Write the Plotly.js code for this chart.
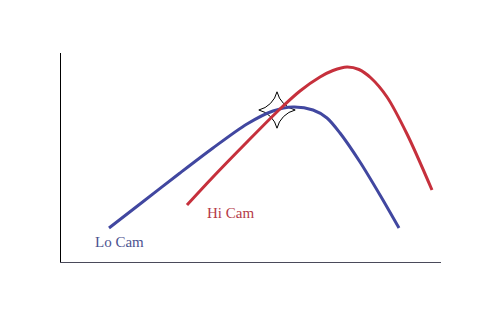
<!DOCTYPE html>
<html>
<head>
<meta charset="utf-8">
<script src="https://cdn.plot.ly/plotly-3.0.1.min.js"></script>
<style>html,body{margin:0;padding:0;background:#fff;}#chart{width:492px;height:327px;}</style>
</head>
<body>
<div id="chart"></div>
<script>
// Lo Cam curve (arbitrary units)
const loCamX = [48, 79, 119, 152, 186, 212, 232, 252, 266, 279, 299, 319, 338];
const loCamY = [34, 58, 89, 114, 138, 151, 155, 152, 144, 129, 100, 67, 34];
// Hi Cam curve
const hiCamX = [126, 152, 186, 219, 239, 259, 272, 286, 298, 310, 326, 346, 371];
const hiCamY = [57, 85, 120, 153, 171, 185, 191.5, 195, 192.5, 184, 165, 128, 72];
// Crossing point marker
const crossX = [216];
const crossY = [152];
// Labels
const labelText = ["Lo Cam", "Hi Cam"];
const labelX = [58, 169];
const labelY = [20, 49];
const labelColors = ["#4b5290", "#b53a48"];

const traces = [
  {x: crossX, y: crossY, mode: 'markers', marker: {symbol: 'star-diamond', size: 26, color: '#ffffff', line: {color: '#000000', width: 1}}, hoverinfo: 'skip'},
  {x: loCamX, y: loCamY, mode: 'lines', line: {color: '#4147a0', width: 3, shape: 'spline', smoothing: 0.8}, hoverinfo: 'skip'},
  {x: hiCamX, y: hiCamY, mode: 'lines', line: {color: '#c6303c', width: 3, shape: 'spline', smoothing: 0.9}, hoverinfo: 'skip'}
];

const annotations = labelText.map((t, i) => ({
  x: labelX[i], y: labelY[i], xref: 'x', yref: 'y', text: t, showarrow: false,
  font: {family: 'Liberation Serif, serif', size: 15, color: labelColors[i]}
}));

const layout = {
  width: 492, height: 327,
  margin: {l: 61, r: 51, t: 53, b: 65},
  paper_bgcolor: '#ffffff', plot_bgcolor: '#ffffff',
  showlegend: false,
  xaxis: {range: [0, 380], showgrid: false, zeroline: false, showticklabels: false, ticks: '',
          showline: true, linecolor: '#4a4a5a', linewidth: 1, fixedrange: true},
  yaxis: {range: [0, 209], showgrid: false, zeroline: false, showticklabels: false, ticks: '',
          showline: true, linecolor: '#000000', linewidth: 1, fixedrange: true},
  annotations: annotations
};

Plotly.newPlot('chart', traces, layout, {displayModeBar: false, staticPlot: true});
</script>
</body>
</html>
